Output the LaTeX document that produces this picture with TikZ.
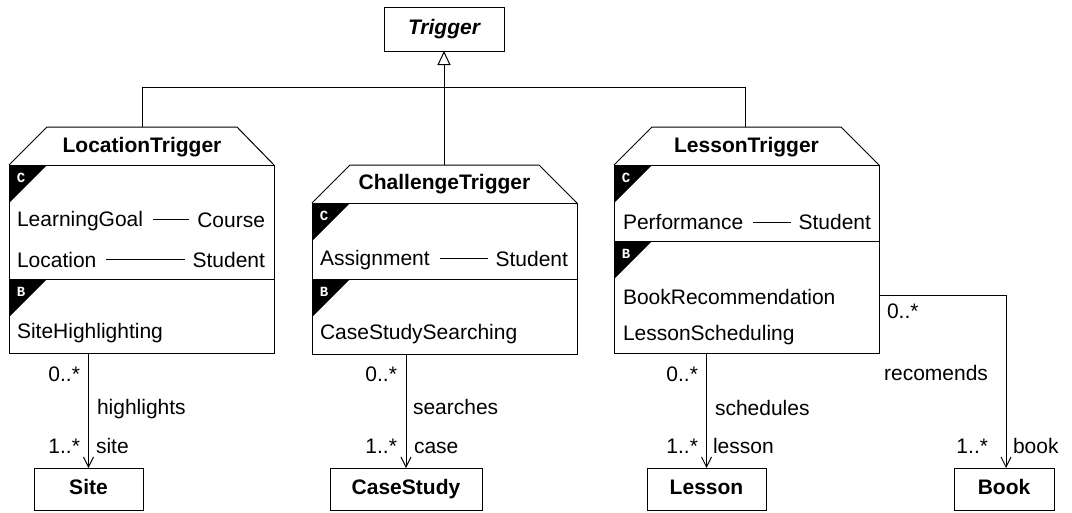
\documentclass[tikz,border=0pt]{standalone}
\usepackage{fontspec}
\setmainfont{Liberation Sans}
\newfontfamily\markfont{Liberation Mono}
\usetikzlibrary{arrows.meta}

% corner tag of a class compartment: black triangle with a white letter
\newcommand\comptag[4]{%
  \fill[black] (#1,#2) -- ++(38,0) -- ++(-38,38) -- cycle;
  \node[tagtext] (#4) at (#1+12,#2+13) {#3};}

\begin{document}
\begin{tikzpicture}[x=1pt,y=-1pt,
  every node/.style={inner sep=0pt, outer sep=0pt, font=\fontsize{21}{25}\selectfont},
  line/.style={draw=black, line width=1pt},
  box/.style={draw=black, line width=1pt, rectangle, minimum height=42, text height=15, text depth=4.5, font=\fontsize{21}{25}\selectfont\bfseries},
  body/.style={draw=black, line width=1pt, rectangle, minimum width=265, anchor=north west},
  ctitle/.style={anchor=base, font=\fontsize{21}{25}\selectfont\bfseries},
  tagtext/.style={text=white, font=\fontsize{14}{14}\markfont\bfseries},
  lt/.style={anchor=base west},
  rt/.style={anchor=base east},
  assoc/.style={line width=1pt, -{Straight Barb[length=10pt, width=10pt, line width=1pt]}},
  gen/.style={line width=1pt, -{Triangle[open, length=14pt, width=13pt, line width=1pt]}},
]
\useasboundingbox (0,0) rectangle (1072,512);

% ---------- superclass ----------
\node[box, minimum width=120, minimum height=44, font=\fontsize{21}{25}\selectfont\bfseries\itshape] (trig) at (444,29) {Trigger};

% ---------- LocationTrigger ----------
\node[body, minimum height=188] (locB) at (9,165) {};
\draw[line] (locB.north west) -- (47,127) -- (237,127) -- (locB.north east);
\coordinate (locTop) at (142,127);
\node[ctitle] (locT) at (142,152) {LocationTrigger};
\comptag{9}{165}{C}{locC}
\node[lt] (locA1) at (17,226) {LearningGoal};
\node[rt] (locA2) at (265,227) {Course};
\draw[line] ([xshift=10]locA1.base east) ++(0,-7) coordinate (l1a) -- ([xshift=-8]locA2.base west |- l1a);
\node[lt] (locA3) at (17,267) {Location};
\node[rt] (locA4) at (265,267) {Student};
\draw[line] ([xshift=10]locA3.base east) ++(0,-7.5) coordinate (l2a) -- ([xshift=-8]locA4.base west |- l2a);
\draw[line] (9,279) -- (274,279);
\comptag{9}{279}{B}{locBt}
\node[lt] (locOp) at (17,338) {SiteHighlighting};

% ---------- ChallengeTrigger ----------
\node[body, minimum height=151] (chB) at (312,203) {};
\draw[line] (chB.north west) -- (350,165) -- (539,165) -- (chB.north east);
\coordinate (chTop) at (444,165);
\node[ctitle] (chT) at (444.5,189) {ChallengeTrigger};
\comptag{312}{203}{C}{chC}
\node[lt] (chA1) at (320,265) {Assignment};
\node[rt] (chA2) at (568,266) {Student};
\draw[line] ([xshift=10]chA1.base east) ++(0,-7) coordinate (c1a) -- ([xshift=-8]chA2.base west |- c1a);
\draw[line] (312,279) -- (577,279);
\comptag{312}{279}{B}{chBt}
\node[lt] (chOp) at (320,339) {CaseStudySearching};

% ---------- LessonTrigger ----------
\node[body, minimum height=188] (leB) at (614,165) {};
\draw[line] (leB.north west) -- (652,127) -- (841,127) -- (leB.north east);
\coordinate (leTop) at (745,127);
\node[ctitle] (leT) at (746.5,152) {LessonTrigger};
\comptag{614}{165}{C}{leC}
\node[lt] (leA1) at (623,229) {Performance};
\node[rt] (leA2) at (871,229) {Student};
\draw[line] ([xshift=10]leA1.base east) ++(0,-7) coordinate (e1a) -- ([xshift=-8]leA2.base west |- e1a);
\draw[line] (614,241) -- (879,241);
\comptag{614}{241}{B}{leBt}
\node[lt] (leOp1) at (623,304) {BookRecommendation};
\node[lt] (leOp2) at (623,340) {LessonScheduling};

% ---------- generalization ----------
\coordinate (genBar) at (444,87);
\draw[line] (locTop) -- (locTop |- genBar) -- (leTop |- genBar) -- (leTop);
\draw[gen] (chTop) -- (trig.south);

% ---------- associated classes ----------
\node[box, minimum width=109] (site) at (88.5,489) {Site};
\node[box, minimum width=152] (cs) at (406,489) {CaseStudy};
\node[box, minimum width=119] (lesson) at (706.5,489) {Lesson};
\node[box, minimum width=100] (book) at (1004,489) {Book};

% ---------- associations ----------
\draw[assoc] (site.north |- locB.south) -- (site.north);
\node[rt] (m1a) at (80,381) {0..*};
\node[lt] (n1) at (97,414) {highlights};
\node[rt] (m1b) at (80,453) {1..*};
\node[lt] (r1) at (96,453) {site};

\draw[assoc] (cs.north |- chB.south) -- (cs.north);
\node[rt] (m2a) at (397,381) {0..*};
\node[lt] (n2) at (413,414) {searches};
\node[rt] (m2b) at (397,453) {1..*};
\node[lt] (r2) at (414,453) {case};

\draw[assoc] (lesson.north |- leB.south) -- (lesson.north);
\node[rt] (m3a) at (698,381) {0..*};
\node[lt] (n3) at (715,415) {schedules};
\node[rt] (m3b) at (698,453) {1..*};
\node[lt] (r3) at (713,453) {lesson};

\coordinate (bookTurn) at (1006,295.5);
\draw[assoc] (leB.east |- bookTurn) -- (bookTurn) -- (bookTurn |- book.north);
\node[lt] (m4a) at (887,318) {0..*};
\node[rt] (n4) at (988,380) {recomends};
\node[rt] (m4b) at (988,453) {1..*};
\node[lt] (r4) at (1013,453) {book};
\end{tikzpicture}
\end{document}
